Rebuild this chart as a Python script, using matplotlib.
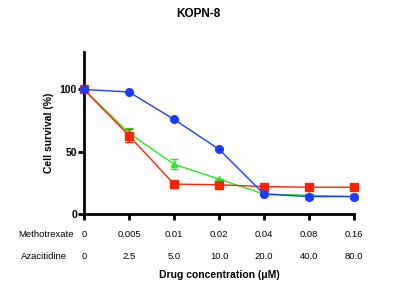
import matplotlib
matplotlib.use("Agg")
import matplotlib.pyplot as plt
import numpy as np

methotrexate = ["0", "0.005", "0.01", "0.02", "0.04", "0.08", "0.16"]
azacitidine = ["0", "2.5", "5.0", "10.0", "20.0", "40.0", "80.0"]
blue = [100, 98, 76, 52, 16, 14, 14]
blue_err = [0, 0, 0, 0, 1, 2, 2]
green = [100, 65, 40, 28, 16, 15, 14]
green_err = [0, 4, 4, 0, 0, 0, 0]
red = [100, 63, 24, 23.5, 22, 21.5, 21.5]
red_err = [0, 5, 0, 0, 0, 0, 0]

plt.rcParams['font.family'] = ['Liberation Sans', 'DejaVu Sans']
fig = plt.figure(figsize=(3.96, 2.88), dpi=100)
ax = fig.add_axes([0.212, 0.257, 0.682, 0.562])
x = np.arange(len(methotrexate))

ax.errorbar(x, green, yerr=green_err, color='#22ee22', marker='^', ms=5, lw=1,
            capsize=3, elinewidth=1, zorder=3)
ax.errorbar(x, red, yerr=red_err, color='#ff2200', marker='s', ms=5.5, lw=1,
            capsize=3, elinewidth=1, zorder=4)
ax.errorbar(x, blue, yerr=blue_err, color='#1a3cff', marker='o', ms=5.5, lw=1,
            capsize=3, elinewidth=1, zorder=5)

ax.set_xlim(0, 6)
ax.set_ylim(0, 130)
ax.set_yticks([0, 50, 100])
ax.set_yticklabels(["0", "50", "100"], fontweight='bold', fontsize=7.5)
ax.set_xticks(x)
ax.set_xticklabels([])
for s in ['top', 'right']:
    ax.spines[s].set_visible(False)
for s in ['left', 'bottom']:
    ax.spines[s].set_linewidth(2)
ax.tick_params(axis='both', width=2, length=4)
ax.tick_params(axis='y', pad=1)
for line in ax.lines:
    line.set_clip_on(False)

ax.set_ylabel("Cell survival (%)", fontweight='bold', fontsize=7.5, labelpad=4)
fig.text(0.5, 0.95, "KOPN-8", ha='center', va='center', fontweight='bold', fontsize=8.5)

trans = ax.get_xaxis_transform()
for i in range(len(x)):
    ax.text(x[i], -0.125, methotrexate[i], transform=trans, ha='center', va='center', fontsize=6.8)
    ax.text(x[i], -0.265, azacitidine[i], transform=trans, ha='center', va='center', fontsize=6.8)
ax.text(-0.84, -0.125, "Methotrexate", transform=trans, ha='center', va='center', fontsize=6.8)
ax.text(-0.88, -0.265, "Azacitidine", transform=trans, ha='center', va='center', fontsize=6.8)
ax.text(3.0, -0.38, "Drug concentration (\u03bcM)", transform=trans, ha='center', va='center',
        fontsize=7.5, fontweight='bold')

fig.savefig("out.png", dpi=100)
